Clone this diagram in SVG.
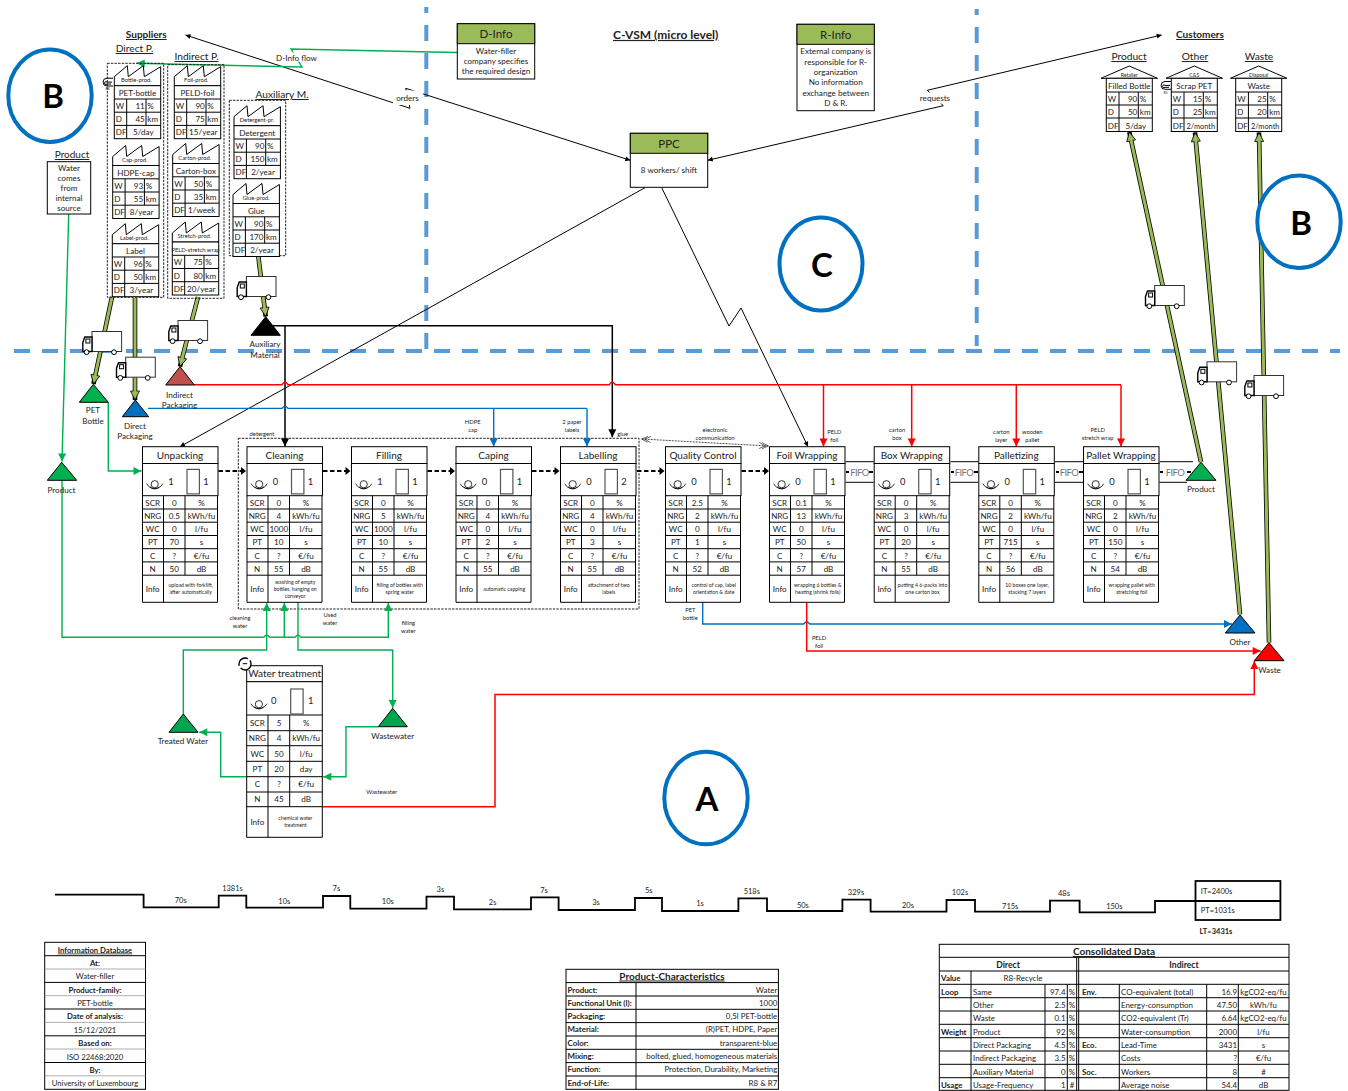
<svg xmlns="http://www.w3.org/2000/svg" width="1348" height="1091" viewBox="0 0 1348 1091">
<style>
text{font-family:Lato,"Liberation Sans",sans-serif;fill:#222;font-size:8.1px}
.m{text-anchor:middle}.e{text-anchor:end}.b{font-weight:700}.u{text-decoration:underline}
.s5{font-size:5.8px}.s45{font-size:5.2px}.s65{font-size:7.5px}.s7{font-size:7.9px}.s77{font-size:7.7px}.s85{font-size:10px}.s10{font-size:10.2px}.s12{font-size:12px}.s11{font-size:11.5px}
.v text{text-anchor:middle}
.v text.pt{font-size:10px}.v text.n{font-size:9.4px}
.big{font-size:33px;font-weight:700;text-anchor:middle;fill:#000}
.fifo{font-size:9.5px;fill:#777;text-anchor:middle;letter-spacing:-.6px}
.l{fill:none;stroke:#000;stroke-width:1}
.box{fill:#fff;stroke:#000;stroke-width:1}
.dash{fill:none;stroke:#5B9BD5;stroke-width:4;stroke-dasharray:16 12}
.dot{fill:none;stroke:#222;stroke-width:1;stroke-dasharray:2.4 1.2}
.thin{fill:none;stroke:#000;stroke-width:1}
.aux{fill:none;stroke:#000;stroke-width:1.5;marker-end:url(#mk)}
.red{fill:none;stroke:#F00;stroke-width:1.5}
.blue{fill:none;stroke:#0070C0;stroke-width:1.4}
.grn{fill:none;stroke:#00B050;stroke-width:1.4}
.flow{fill:none;stroke:#000;stroke-width:1.8;stroke-dasharray:4.5 2.5;marker-end:url(#mf)}
.ou{fill:none;stroke:#000;stroke-width:4.6;marker-end:url(#mo)}
.ol{fill:none;stroke:#9BBB59;stroke-width:3}
.ring{fill:#fff;stroke:#0070C0;stroke-width:4}
.tl{fill:none;stroke:#000;stroke-width:1.8}
.hdr{fill:#9BBB59;stroke:#000;stroke-width:1}
.g{fill:none;stroke:#999;stroke-width:.8}
.tri{stroke:#000;stroke-width:1}
</style>
<defs>
<marker id="mk" markerUnits="userSpaceOnUse" markerWidth="9" markerHeight="9" refX="8" refY="4" orient="auto" overflow="visible"><path d="M0,0L8,4L0,8Z" fill="#000"/></marker>
<marker id="mr" markerUnits="userSpaceOnUse" markerWidth="9" markerHeight="9" refX="8" refY="4" orient="auto" overflow="visible"><path d="M0,0L8,4L0,8Z" fill="#F00"/></marker>
<marker id="mb" markerUnits="userSpaceOnUse" markerWidth="9" markerHeight="9" refX="8" refY="4" orient="auto" overflow="visible"><path d="M0,0L8,4L0,8Z" fill="#0070C0"/></marker>
<marker id="mg" markerUnits="userSpaceOnUse" markerWidth="9" markerHeight="9" refX="8" refY="4" orient="auto" overflow="visible"><path d="M0,0L8,4L0,8Z" fill="#00B050"/></marker>
<marker id="mf" markerUnits="userSpaceOnUse" markerWidth="7" markerHeight="8" refX="5" refY="4" orient="auto" overflow="visible"><path d="M0,0L5,4L0,8Z" fill="#000"/></marker>
<marker id="ms" markerUnits="userSpaceOnUse" markerWidth="6" markerHeight="6" refX="5" refY="2.5" orient="auto-start-reverse" overflow="visible"><path d="M0,0L5,2.5L0,5Z" fill="#000"/></marker>
<marker id="mo" markerUnits="userSpaceOnUse" markerWidth="10" markerHeight="10" refX="9" refY="4.5" orient="auto" overflow="visible"><path d="M0,0L9,4.5L0,9Z" fill="#9BBB59" stroke="#000" stroke-width=".8"/></marker>
<marker id="me" markerUnits="userSpaceOnUse" markerWidth="9" markerHeight="9" refX="6" refY="3" orient="auto-start-reverse" overflow="visible"><path d="M0,0L6,3L0,6M-3,0L3,3L-3,6" fill="none" stroke="#000" stroke-width=".6"/></marker>
<g id="pb">
<rect class="box" x=".5" y="0" width="75.5" height="16.8"/><rect class="box" x=".5" y="16.8" width="75.5" height="32.2"/>
<path class="l" d="M.5,49V155.6H75.5V49M.5,62.3H75.5M.5,75.5H75.5M.5,88.8H75.5M.5,102H75.5M.5,115.2H75.5M.5,128.5H75.5M21.5,49V155.6M43,49V128.5"/>
<use href="#op"/>
<rect x="45" y="22.7" width="12.4" height="24.5" fill="#fff" stroke="#555" stroke-width="1.2"/>
</g>
<g id="op" fill="none" stroke="#000" stroke-width=".8"><circle cx="12.7" cy="37.5" r="3.6"/><path d="M8,40A6,6 0 0 0 17.4,40M4.7,37A9,9 0 0 0 20.7,37"/></g>
<g id="sb"><path class="box" d="M0,11L13,0L14,11L29,0L30,11L46.4,1V20H0Z"/><rect class="box" x="0" y="20" width="46.4" height="53"/><path class="l" d="M0,33.3H46.4M0,46.5H46.4M0,59.7H46.4M12.4,33.3V73M31.7,33.3V59.7"/></g>
<g id="hb"><path class="box" d="M-5.3,12.3L23,0L51.3,12.3Z"/><rect class="box" x="0" y="12.3" width="46" height="53.2"/><path class="l" d="M0,26H46M0,39H46M0,52H46M12.7,26V65.5M32,26V52"/></g>
<g id="tk"><rect x="9.7" y=".5" width="29.6" height="20" fill="#fff" stroke="#333" stroke-width="1"/><path d="M9.7,6H2.5L.5,11.5V20.5H9.7Z" fill="#fff" stroke="#000" stroke-width="1.4"/><rect x="3.6" y="8" width="4" height="4" fill="#fff" stroke="#000" stroke-width="1"/><circle cx="4.3" cy="21.2" r="2.4" fill="#fff" stroke="#000"/><circle cx="31.7" cy="21.2" r="2.4" fill="#fff" stroke="#000"/></g>
<g id="ri" fill="none" stroke="#000" stroke-width="1"><path d="M5,-3.5H-1A3.9,3.9 0 1 0 -1,4.3H5"/><path d="M4,.4H-1A1.4,1.4 0 1 0 -1,2.3H3"/></g>
</defs>

<g id="dividers">
<path class="dash" stroke-dashoffset="10" d="M426.3,7V350"/>
<path class="dash" stroke-dashoffset="10" d="M976.7,9V346"/>
<path class="dash" d="M14,351H1340"/>
</g>

<rect id="group-box" class="dot" x="238.3" y="438.3" width="400.7" height="170.7"/>

<g id="connectors">
<path d="M185.5,35L410,108.3L405.7,88.3L630.3,160.3" fill="none" stroke="#000" stroke-width="1" marker-start="url(#ms)" marker-end="url(#ms)"/>
<rect x="393" y="90.5" width="30" height="14.5" fill="#fff"/><text class="m" x="407.5" y="101">orders</text>
<path d="M707.7,160.3L943.3,105.7L927.3,90.3L1161.7,35" fill="none" stroke="#000" stroke-width="1" marker-start="url(#ms)" marker-end="url(#ms)"/>
<rect x="917" y="92.5" width="36" height="11" fill="#fff"/><text class="m" x="935" y="101">requests</text>
<path class="thin" marker-end="url(#ms)" d="M645,187.7L180,446.7"/>
<path class="thin" marker-end="url(#ms)" d="M661.7,187.7L729,326L741,308L808,446.7"/>
<path class="grn" marker-end="url(#mg)" d="M457,52.5L291,49L302,67L136.7,63.3"/>
<rect x="275" y="52.5" width="43" height="9" fill="#fff"/><text class="m" x="296.5" y="60.5">D-Info flow</text>
<path class="ou" d="M112,297L93.5,384"/><path class="ol" d="M112,297L94.5,379"/>
<path class="ou" d="M135,298V400"/><path class="ol" d="M135,298V395"/>
<path class="ou" d="M198,297L180,366.5"/><path class="ol" d="M198,297L181.3,361.5"/>
<path class="ou" d="M258.3,256L265.7,316.5"/><path class="ol" d="M258.3,256L265,311.5"/>
<path class="ou" d="M1201,462L1129.3,132"/><path class="ol" d="M1201,462L1130.4,137"/>
<path class="ou" d="M1240,614.5L1195,132.5"/><path class="ol" d="M1240,614.5L1195.5,137.5"/>
<path class="ou" d="M1269,642.5L1259,132.5"/><path class="ol" d="M1269,642.5L1259.1,137.5"/>
<path class="aux" d="M272,325.7H612.3V437.3"/>
<path class="aux" d="M285,325.7V446.5"/>
<path class="red" d="M194,384.7H282Q285,380 288,384.7H609.3Q612.3,380 615.3,384.7H1121"/>
<path class="red" marker-end="url(#mr)" d="M823.5,384.7V446.5"/><path class="red" marker-end="url(#mr)" d="M911.7,384.7V446.5"/><path class="red" marker-end="url(#mr)" d="M1016.3,384.7V446.5"/><path class="red" marker-end="url(#mr)" d="M1121,384.7V446.5"/>
<path class="blue" d="M148,408.4H282Q285,404 288,408.4H587"/>
<path class="blue" marker-end="url(#mb)" d="M493.7,408.4V446.5"/><path class="blue" marker-end="url(#mb)" d="M587,408.4V446.5"/>
<path class="blue" marker-end="url(#mb)" d="M702.7,602.5V624H803.7Q806.7,620 809.7,624H1232"/>
<path class="red" marker-end="url(#mr)" d="M806.7,602.5V651H1260.7"/>
<path class="red" marker-end="url(#mr)" d="M322.3,806.7H495V694.5H1254.3V661"/>
<path class="grn" marker-end="url(#mg)" d="M68.7,214L62,461.5"/>
<path class="grn" marker-end="url(#mg)" d="M62,480V637.3H263.7Q266.7,633 269.7,637.3H295Q298,633 301,637.3H388.3V603"/>
<path class="grn" marker-end="url(#mg)" d="M284.3,637.3V603"/>
<path class="grn" marker-end="url(#mg)" d="M183.3,714V650H266.7V603"/>
<path class="grn" marker-end="url(#mg)" d="M298,602.5V650H392.7V708"/>
<path class="grn" marker-end="url(#mg)" d="M378.3,726.7H346V776.7H323.3"/>
<path class="grn" marker-end="url(#mg)" d="M246.7,776.7H220.7V732.3H199.3"/>
<path class="grn" marker-end="url(#mg)" d="M108.3,402.3V471H141.5"/>
<path class="flow" d="M218.5,471H246"/><path class="flow" d="M323,471H350.5"/><path class="flow" d="M427.5,471H455"/><path class="flow" d="M532,471H559.5"/><path class="flow" d="M637,471H664.5"/><path class="flow" d="M741.5,471H769"/>
<path d="M641.7,439L768.3,446" fill="none" stroke="#000" stroke-width=".7" stroke-dasharray="2 1" marker-start="url(#me)" marker-end="url(#me)"/>
<g id="fifo-lanes">
<path class="l" d="M845.5,461.7H873.7M845.5,482.3H873.7M950.5,461.7H978.3M950.5,482.3H978.3M1055,461.7H1083M1055,482.3H1083M1159.5,461.7H1193M1159.5,482.3H1187"/>
<path fill="none" stroke="#000" stroke-width="1.8" d="M846,472H849M869,472H873M951,472H954M974,472H978M1056,472H1059M1079,472H1083M1160,472H1163M1187,472H1191"/>
<text class="fifo" x="859.5" y="475.5">FIFO</text><text class="fifo" x="964" y="475.5">FIFO</text><text class="fifo" x="1069" y="475.5">FIFO</text><text class="fifo" x="1175" y="475.5">FIFO</text>
</g>
<g id="connector-labels">
<text class="s5 m" x="262" y="436">detergent</text>
<text class="s5 m" x="472.7" y="423.5">HDPE</text><text class="s5 m" x="472.7" y="431.7">cap</text>
<text class="s5 m" x="572" y="423.5">2 paper</text><text class="s5 m" x="572" y="431.7">labels</text>
<text class="s5 m" x="622.7" y="436">glue</text>
<text class="s5 m" x="715" y="431.7">electronic</text><text class="s5 m" x="715" y="439.7">communication</text>
<text class="s5 m" x="834.3" y="433.5">PELD</text><text class="s5 m" x="834.3" y="441.7">foil</text>
<text class="s5 m" x="897" y="431.7">carton</text><text class="s5 m" x="897" y="439.7">box</text>
<text class="s5 m" x="1001.3" y="433.5">carton</text><text class="s5 m" x="1001.3" y="441.5">layer</text>
<text class="s5 m" x="1032.3" y="433.5">wooden</text><text class="s5 m" x="1032.3" y="441.5">pallet</text>
<text class="s5 m" x="1097.7" y="431.7">PELD</text><text class="s5 m" x="1097.7" y="439.9">stretch wrap</text>
<text class="s5 m" x="690.3" y="611.9">PET</text><text class="s5 m" x="690.3" y="619.8">bottle</text>
<text class="s5 m" x="819" y="639.5">PELD</text><text class="s5 m" x="819" y="647.5">foil</text>
<text class="s5 m" x="240" y="619.5">cleaning</text><text class="s5 m" x="240" y="627.7">water</text>
<text class="s5 m" x="330" y="616.5">Used</text><text class="s5 m" x="330" y="624.7">water</text>
<text class="s5 m" x="408.3" y="624.5">filling</text><text class="s5 m" x="408.3" y="632.7">water</text>
<text class="s5 m" x="381.7" y="793.7">Wastewater</text>
</g>
</g>

<text id="title" class="s12 b u m" x="665.7" y="38.9">C-VSM (micro level)</text>
<text class="s85 b u m" x="146.3" y="38">Suppliers</text>
<text class="s10 u m" x="134.5" y="52">Direct P.</text>
<text class="s10 u m" x="196.5" y="60">Indirect P.</text>
<text class="s10 u m" x="282" y="98">Auxiliary M.</text>
<text class="s85 b u m" x="1200" y="38">Customers</text>
<text class="s10 u m" x="1129" y="60">Product</text>
<text class="s10 u m" x="1195" y="60">Other</text>
<text class="s10 u m" x="1259" y="60">Waste</text>

<g id="water-source"><text class="s85 u m" x="72" y="158">Product</text><rect class="box" x="47.3" y="161.7" width="43.4" height="52.3"/>
<text class="m" x="69" y="170.5">Water</text><text class="m" x="69" y="180.7">comes</text><text class="m" x="69" y="191">from</text><text class="m" x="69" y="201.3">internal</text><text class="m" x="69" y="211.3">source</text></g>

<rect class="dot" x="107.3" y="63.3" width="56.4" height="234"/>
<rect class="dot" x="167.7" y="64.7" width="56.3" height="233.6"/>
<rect class="dot" x="229.3" y="100.3" width="56.4" height="155.4"/>

<g id="s-bottle" transform="translate(114.3,65.7)"><use href="#sb"/><text class="s5 m" x="22" y="16">Bottle-prod.</text><text class="m" x="23.2" y="30.3">PET-bottle</text><text x="1.5" y="43.3">W</text><text class="e" x="30.5" y="43.3">11</text><text x="33" y="43.3">%</text><text x="1.5" y="56.5">D</text><text class="e" x="30.5" y="56.5">45</text><text x="33" y="56.5">km</text><text x="1.5" y="69.8">DF</text><text class="m" x="29" y="69.8">5/day</text></g>
<g id="s-cap" transform="translate(112.7,145.5)"><use href="#sb"/><text class="s5 m" x="22" y="16">Cap-prod.</text><text class="m" x="23.2" y="30.3">HDPE-cap</text><text x="1.5" y="43.3">W</text><text class="e" x="30.5" y="43.3">93</text><text x="33" y="43.3">%</text><text x="1.5" y="56.5">D</text><text class="e" x="30.5" y="56.5">55</text><text x="33" y="56.5">km</text><text x="1.5" y="69.8">DF</text><text class="m" x="29" y="69.8">8/year</text></g>
<g id="s-label" transform="translate(112.3,223.7)"><use href="#sb"/><text class="s5 m" x="22" y="16">Label-prod.</text><text class="m" x="23.2" y="30.3">Label</text><text x="1.5" y="43.3">W</text><text class="e" x="30.5" y="43.3">96</text><text x="33" y="43.3">%</text><text x="1.5" y="56.5">D</text><text class="e" x="30.5" y="56.5">50</text><text x="33" y="56.5">km</text><text x="1.5" y="69.8">DF</text><text class="m" x="29" y="69.8">3/year</text></g>
<g id="s-foil" transform="translate(174.3,65.7)"><use href="#sb"/><text class="s5 m" x="22" y="16">Foil-prod.</text><text class="m" x="23.2" y="30.3">PELD-foil</text><text x="1.5" y="43.3">W</text><text class="e" x="30.5" y="43.3">90</text><text x="33" y="43.3">%</text><text x="1.5" y="56.5">D</text><text class="e" x="30.5" y="56.5">75</text><text x="33" y="56.5">km</text><text x="1.5" y="69.8">DF</text><text class="m" x="29" y="69.8">15/year</text></g>
<g id="s-carton" transform="translate(172.7,143.5)"><use href="#sb"/><text class="s5 m" x="22" y="16">Carton-prod.</text><text class="m" x="23.2" y="30.3">Carton-box</text><text x="1.5" y="43.3">W</text><text class="e" x="30.5" y="43.3">50</text><text x="33" y="43.3">%</text><text x="1.5" y="56.5">D</text><text class="e" x="30.5" y="56.5">35</text><text x="33" y="56.5">km</text><text x="1.5" y="69.8">DF</text><text class="m" x="29" y="69.8">1/week</text></g>
<g id="s-stretch" transform="translate(172.3,222)"><use href="#sb"/><text class="s5 m" x="22" y="16">Stretch-prod.</text><text class="s5 m" x="23.2" y="30">PELD-stretch wrap</text><text x="1.5" y="43.3">W</text><text class="e" x="30.5" y="43.3">75</text><text x="33" y="43.3">%</text><text x="1.5" y="56.5">D</text><text class="e" x="30.5" y="56.5">80</text><text x="33" y="56.5">km</text><text x="1.5" y="69.8">DF</text><text class="m" x="29" y="69.8">20/year</text></g>
<g id="s-detergent" transform="translate(234,105.7)"><use href="#sb"/><text class="s5 m" x="23" y="16">Detergent-pr.</text><text class="m" x="23.2" y="30.3">Detergent</text><text x="1.5" y="43.3">W</text><text class="e" x="30.5" y="43.3">90</text><text x="33" y="43.3">%</text><text x="1.5" y="56.5">D</text><text class="e" x="30.5" y="56.5">150</text><text x="33" y="56.5">km</text><text x="1.5" y="69.8">DF</text><text class="m" x="29" y="69.8">2/year</text></g>
<g id="s-glue" transform="translate(233,183.5)"><use href="#sb"/><text class="s5 m" x="23" y="16">Glue-prod.</text><text class="m" x="23.2" y="30.3">Glue</text><text x="1.5" y="43.3">W</text><text class="e" x="30.5" y="43.3">90</text><text x="33" y="43.3">%</text><text x="1.5" y="56.5">D</text><text class="e" x="30.5" y="56.5">170</text><text x="33" y="56.5">km</text><text x="1.5" y="69.8">DF</text><text class="m" x="29" y="69.8">2/year</text></g>
<g id="r8-icon"><use href="#ri" transform="translate(108,81.7)"/><text class="m" x="107.5" y="90" style="font-size:3.5px">R8</text></g>

<g id="c-retailer" transform="translate(1106.3,66)"><use href="#hb"/><text class="s45 m" x="23" y="11">Retailer</text><text class="m" x="23" y="23">Filled Bottle</text><text x="1.5" y="36">W</text><text class="e" x="31" y="36">90</text><text x="33.5" y="36">%</text><text x="1.5" y="49">D</text><text class="e" x="31" y="49">50</text><text x="33.5" y="49">km</text><text x="1.5" y="62.5">DF</text><text class="m" x="29.5" y="62.5">5/day</text></g>
<g id="c-cs" transform="translate(1171.3,66)"><use href="#hb"/><text class="s45 m" x="23" y="11">C&amp;S</text><text class="m" x="23" y="23">Scrap PET</text><text x="1.5" y="36">W</text><text class="e" x="31" y="36">15</text><text x="33.5" y="36">%</text><text x="1.5" y="49">D</text><text class="e" x="31" y="49">25</text><text x="33.5" y="49">km</text><text x="1.5" y="62.5">DF</text><text class="m" x="29.5" y="62.5" style="font-size:7.4px">2/month</text></g>
<g id="c-disposal" transform="translate(1235.7,66)"><use href="#hb"/><text class="s45 m" x="23" y="11">Disposal</text><text class="m" x="23" y="23">Waste</text><text x="1.5" y="36">W</text><text class="e" x="31" y="36">25</text><text x="33.5" y="36">%</text><text x="1.5" y="49">D</text><text class="e" x="31" y="49">20</text><text x="33.5" y="49">km</text><text x="1.5" y="62.5">DF</text><text class="m" x="29.5" y="62.5" style="font-size:7.4px">2/month</text></g>
<g id="r3-icon"><use href="#ri" transform="translate(1166,85)"/><text class="m" x="1165.5" y="93.5" style="font-size:3.5px">R3</text></g>

<g id="d-info"><rect class="box" x="457.3" y="23.7" width="77.4" height="55.3"/><rect class="hdr" x="457.3" y="23.7" width="77.4" height="20"/><text class="s11 m" x="496" y="38">D-Info</text><text class="m" x="496" y="53.7">Water-filler</text><text class="m" x="496" y="64">company specifies</text><text class="m" x="496" y="73.7">the required design</text></g>
<g id="r-info"><rect class="box" x="797" y="24.3" width="77.3" height="86.4"/><rect class="hdr" x="797" y="24.3" width="77.3" height="20"/><text class="s11 m" x="835.7" y="38.5">R-Info</text><text class="m" x="835.7" y="54">External company is</text><text class="m" x="835.7" y="65">responsible for R-</text><text class="m" x="835.7" y="75">organization</text><text class="m" x="835.7" y="85">No information</text><text class="m" x="835.7" y="96">exchange between</text><text class="m" x="835.7" y="106">D &amp; R.</text></g>
<g id="ppc"><rect class="box" x="630.3" y="133.3" width="77.4" height="54"/><rect class="hdr" x="630.3" y="133.3" width="77.4" height="20"/><text class="s11 m" x="669" y="147.7">PPC</text><text class="m" x="669" y="173">8 workers/ shift</text></g>

<g id="trucks">
<use href="#tk" x="82.3" y="331"/><use href="#tk" x="116" y="356.7"/><use href="#tk" x="168.3" y="320"/><use href="#tk" x="236.7" y="276"/><use href="#tk" x="1145" y="285"/><use href="#tk" x="1197.3" y="361.3"/><use href="#tk" x="1244.3" y="375"/>
</g>

<g id="inv-pet"><path class="tri" fill="#00B050" d="M93.3,384.3L108.3,402.3H79.3Z"/><text class="m" x="93" y="413">PET</text><text class="m" x="93" y="424">Bottle</text></g>
<g id="inv-direct"><path class="tri" fill="#0070C0" d="M135.3,400L148.7,416.7H122.3Z"/><text class="m" x="135" y="429">Direct</text><text class="m" x="135" y="439">Packaging</text></g>
<g id="inv-indirect"><path class="tri" fill="#C0504D" d="M180,366.7L194.3,385H165.7Z"/><text class="m" x="179.5" y="398">Indirect</text><text class="m" x="179.5" y="408">Packaging</text></g>
<g id="inv-aux"><path class="tri" fill="#000" d="M265.7,316.7L280.3,335.3H251Z"/><text class="m" x="265" y="347">Auxiliary</text><text class="m" x="265" y="358">Material</text></g>
<g id="inv-product-in"><path class="tri" fill="#00B050" d="M61.7,462.3L76.7,480.3H47.3Z"/><text class="m" x="61.5" y="492.5">Product</text></g>
<g id="inv-product"><path class="tri" fill="#00B050" d="M1201,462.3L1216,480.3H1186Z"/><text class="m" x="1201" y="492">Product</text></g>
<g id="inv-other"><path class="tri" fill="#0070C0" d="M1240,615L1255,633H1225.3Z"/><text class="m" x="1240" y="645">Other</text></g>
<g id="inv-waste"><path class="tri" fill="#F00" d="M1269,642.7L1284,660.7H1254.3Z"/><text class="m" x="1269.5" y="673">Waste</text></g>
<g id="inv-treated"><path class="tri" fill="#00A54F" d="M183.3,714L198,732.3H169Z"/><text class="m" x="183" y="744">Treated Water</text></g>
<g id="inv-wastewater"><path class="tri" fill="#00A54F" d="M392.7,708.3L407.3,726.7H378.3Z"/><text class="m" x="392.7" y="739">Wastewater</text></g>

<g id="p-unpacking" class="v" transform="translate(142,446.7)"><use href="#pb"/><text class="pt" x="38" y="12">Unpacking</text><text class="n" x="29" y="38">1</text><text class="n" x="64" y="38">1</text>
<text x="10.7" y="59">SCR</text><text x="32.3" y="59">0</text><text x="59.5" y="59">%</text><text x="10.7" y="72.3">NRG</text><text x="32.3" y="72.3">0.5</text><text x="59.5" y="72.3">kWh/fu</text><text x="10.7" y="85.5">WC</text><text x="32.3" y="85.5">0</text><text x="59.5" y="85.5">l/fu</text><text x="10.7" y="98.8">PT</text><text x="32.3" y="98.8">70</text><text x="59.5" y="98.8">s</text><text x="10.7" y="112">C</text><text x="32.3" y="112">?</text><text x="59.5" y="112">€/fu</text><text x="10.7" y="125.2">N</text><text x="32.3" y="125.2">50</text><text x="59.5" y="125.2">dB</text><text x="10.7" y="145.3">Info</text><text class="s45" x="48.7" y="140.5">upload with forklift,</text><text class="s45" x="48.7" y="147.7">after automatically</text></g>
<g id="p-cleaning" class="v" transform="translate(246.5,446.7)"><use href="#pb"/><text class="pt" x="38" y="12">Cleaning</text><text class="n" x="29" y="38">0</text><text class="n" x="64" y="38">1</text>
<text x="10.7" y="59">SCR</text><text x="32.3" y="59">0</text><text x="59.5" y="59">%</text><text x="10.7" y="72.3">NRG</text><text x="32.3" y="72.3">4</text><text x="59.5" y="72.3">kWh/fu</text><text x="10.7" y="85.5">WC</text><text x="32.3" y="85.5">1000</text><text x="59.5" y="85.5">l/fu</text><text x="10.7" y="98.8">PT</text><text x="32.3" y="98.8">10</text><text x="59.5" y="98.8">s</text><text x="10.7" y="112">C</text><text x="32.3" y="112">?</text><text x="59.5" y="112">€/fu</text><text x="10.7" y="125.2">N</text><text x="32.3" y="125.2">55</text><text x="59.5" y="125.2">dB</text><text x="10.7" y="145.3">Info</text><text class="s45" x="48.7" y="137.4">washing of empty</text><text class="s45" x="48.7" y="144.4">bottles, hanging on</text><text class="s45" x="48.7" y="151.4">conveyor</text></g>
<g id="p-filling" class="v" transform="translate(351,446.7)"><use href="#pb"/><text class="pt" x="38" y="12">Filling</text><text class="n" x="29" y="38">1</text><text class="n" x="64" y="38">1</text>
<text x="10.7" y="59">SCR</text><text x="32.3" y="59">0</text><text x="59.5" y="59">%</text><text x="10.7" y="72.3">NRG</text><text x="32.3" y="72.3">5</text><text x="59.5" y="72.3">kWh/fu</text><text x="10.7" y="85.5">WC</text><text x="32.3" y="85.5">1000</text><text x="59.5" y="85.5">l/fu</text><text x="10.7" y="98.8">PT</text><text x="32.3" y="98.8">10</text><text x="59.5" y="98.8">s</text><text x="10.7" y="112">C</text><text x="32.3" y="112">?</text><text x="59.5" y="112">€/fu</text><text x="10.7" y="125.2">N</text><text x="32.3" y="125.2">55</text><text x="59.5" y="125.2">dB</text><text x="10.7" y="145.3">Info</text><text class="s45" x="48.7" y="140.5">filling of bottles with</text><text class="s45" x="48.7" y="147.7">spring water</text></g>
<g id="p-caping" class="v" transform="translate(455.5,446.7)"><use href="#pb"/><text class="pt" x="38" y="12">Caping</text><text class="n" x="29" y="38">0</text><text class="n" x="64" y="38">1</text>
<text x="10.7" y="59">SCR</text><text x="32.3" y="59">0</text><text x="59.5" y="59">%</text><text x="10.7" y="72.3">NRG</text><text x="32.3" y="72.3">4</text><text x="59.5" y="72.3">kWh/fu</text><text x="10.7" y="85.5">WC</text><text x="32.3" y="85.5">0</text><text x="59.5" y="85.5">l/fu</text><text x="10.7" y="98.8">PT</text><text x="32.3" y="98.8">2</text><text x="59.5" y="98.8">s</text><text x="10.7" y="112">C</text><text x="32.3" y="112">?</text><text x="59.5" y="112">€/fu</text><text x="10.7" y="125.2">N</text><text x="32.3" y="125.2">55</text><text x="59.5" y="125.2">dB</text><text x="10.7" y="145.3">Info</text><text class="s45" x="48.7" y="144.3">automatic capping</text></g>
<g id="p-labelling" class="v" transform="translate(560,446.7)"><use href="#pb"/><text class="pt" x="38" y="12">Labelling</text><text class="n" x="29" y="38">0</text><text class="n" x="64" y="38">2</text>
<text x="10.7" y="59">SCR</text><text x="32.3" y="59">0</text><text x="59.5" y="59">%</text><text x="10.7" y="72.3">NRG</text><text x="32.3" y="72.3">4</text><text x="59.5" y="72.3">kWh/fu</text><text x="10.7" y="85.5">WC</text><text x="32.3" y="85.5">0</text><text x="59.5" y="85.5">l/fu</text><text x="10.7" y="98.8">PT</text><text x="32.3" y="98.8">3</text><text x="59.5" y="98.8">s</text><text x="10.7" y="112">C</text><text x="32.3" y="112">?</text><text x="59.5" y="112">€/fu</text><text x="10.7" y="125.2">N</text><text x="32.3" y="125.2">55</text><text x="59.5" y="125.2">dB</text><text x="10.7" y="145.3">Info</text><text class="s45" x="48.7" y="140.5">attachment of two</text><text class="s45" x="48.7" y="147.7">labels</text></g>
<g id="p-qc" class="v" transform="translate(665,446.7)"><use href="#pb"/><text class="pt" x="38" y="12">Quality Control</text><text class="n" x="29" y="38">0</text><text class="n" x="64" y="38">1</text>
<text x="10.7" y="59">SCR</text><text x="32.3" y="59">2.5</text><text x="59.5" y="59">%</text><text x="10.7" y="72.3">NRG</text><text x="32.3" y="72.3">2</text><text x="59.5" y="72.3">kWh/fu</text><text x="10.7" y="85.5">WC</text><text x="32.3" y="85.5">0</text><text x="59.5" y="85.5">l/fu</text><text x="10.7" y="98.8">PT</text><text x="32.3" y="98.8">1</text><text x="59.5" y="98.8">s</text><text x="10.7" y="112">C</text><text x="32.3" y="112">?</text><text x="59.5" y="112">€/fu</text><text x="10.7" y="125.2">N</text><text x="32.3" y="125.2">52</text><text x="59.5" y="125.2">dB</text><text x="10.7" y="145.3">Info</text><text class="s45" x="48.7" y="140.5">control of cap, label</text><text class="s45" x="48.7" y="147.7">orientation &amp; date</text></g>
<g id="p-foil" class="v" transform="translate(769,446.7)"><use href="#pb"/><text class="pt" x="38" y="12">Foil Wrapping</text><text class="n" x="29" y="38">0</text><text class="n" x="64" y="38">1</text>
<text x="10.7" y="59">SCR</text><text x="32.3" y="59">0.1</text><text x="59.5" y="59">%</text><text x="10.7" y="72.3">NRG</text><text x="32.3" y="72.3">13</text><text x="59.5" y="72.3">kWh/fu</text><text x="10.7" y="85.5">WC</text><text x="32.3" y="85.5">0</text><text x="59.5" y="85.5">l/fu</text><text x="10.7" y="98.8">PT</text><text x="32.3" y="98.8">50</text><text x="59.5" y="98.8">s</text><text x="10.7" y="112">C</text><text x="32.3" y="112">?</text><text x="59.5" y="112">€/fu</text><text x="10.7" y="125.2">N</text><text x="32.3" y="125.2">57</text><text x="59.5" y="125.2">dB</text><text x="10.7" y="145.3">Info</text><text class="s45" x="48.7" y="140">wrapping 6 bottles &amp;</text><text class="s45" x="48.7" y="147">heating (shrink foils)</text></g>
<g id="p-box" class="v" transform="translate(873.7,446.7)"><use href="#pb"/><text class="pt" x="38" y="12">Box Wrapping</text><text class="n" x="29" y="38">0</text><text class="n" x="64" y="38">1</text>
<text x="10.7" y="59">SCR</text><text x="32.3" y="59">0</text><text x="59.5" y="59">%</text><text x="10.7" y="72.3">NRG</text><text x="32.3" y="72.3">3</text><text x="59.5" y="72.3">kWh/fu</text><text x="10.7" y="85.5">WC</text><text x="32.3" y="85.5">0</text><text x="59.5" y="85.5">l/fu</text><text x="10.7" y="98.8">PT</text><text x="32.3" y="98.8">20</text><text x="59.5" y="98.8">s</text><text x="10.7" y="112">C</text><text x="32.3" y="112">?</text><text x="59.5" y="112">€/fu</text><text x="10.7" y="125.2">N</text><text x="32.3" y="125.2">55</text><text x="59.5" y="125.2">dB</text><text x="10.7" y="145.3">Info</text><text class="s45" x="48.7" y="140">putting 4 6-packs into</text><text class="s45" x="48.7" y="147">one carton box</text></g>
<g id="p-palletizing" class="v" transform="translate(978.3,446.7)"><use href="#pb"/><text class="pt" x="38" y="12">Palletizing</text><text class="n" x="29" y="38">0</text><text class="n" x="64" y="38">1</text>
<text x="10.7" y="59">SCR</text><text x="32.3" y="59">0</text><text x="59.5" y="59">%</text><text x="10.7" y="72.3">NRG</text><text x="32.3" y="72.3">2</text><text x="59.5" y="72.3">kWh/fu</text><text x="10.7" y="85.5">WC</text><text x="32.3" y="85.5">0</text><text x="59.5" y="85.5">l/fu</text><text x="10.7" y="98.8">PT</text><text x="32.3" y="98.8">715</text><text x="59.5" y="98.8">s</text><text x="10.7" y="112">C</text><text x="32.3" y="112">?</text><text x="59.5" y="112">€/fu</text><text x="10.7" y="125.2">N</text><text x="32.3" y="125.2">56</text><text x="59.5" y="125.2">dB</text><text x="10.7" y="145.3">Info</text><text class="s45" x="48.7" y="140">10 boxes one layer,</text><text class="s45" x="48.7" y="147">stacking 7 layers</text></g>
<g id="p-pallet-wrapping" class="v" transform="translate(1083,446.7)"><use href="#pb"/><text class="pt" x="38" y="12">Pallet Wrapping</text><text class="n" x="29" y="38">0</text><text class="n" x="64" y="38">1</text>
<text x="10.7" y="59">SCR</text><text x="32.3" y="59">0</text><text x="59.5" y="59">%</text><text x="10.7" y="72.3">NRG</text><text x="32.3" y="72.3">2</text><text x="59.5" y="72.3">kWh/fu</text><text x="10.7" y="85.5">WC</text><text x="32.3" y="85.5">0</text><text x="59.5" y="85.5">l/fu</text><text x="10.7" y="98.8">PT</text><text x="32.3" y="98.8">150</text><text x="59.5" y="98.8">s</text><text x="10.7" y="112">C</text><text x="32.3" y="112">?</text><text x="59.5" y="112">€/fu</text><text x="10.7" y="125.2">N</text><text x="32.3" y="125.2">54</text><text x="59.5" y="125.2">dB</text><text x="10.7" y="145.3">Info</text><text class="s45" x="48.7" y="140">wrapping pallet with</text><text class="s45" x="48.7" y="147">stretching foil</text></g>

<g id="p-water-treatment" class="v" transform="translate(246.7,665.7)">
<rect class="box" x="0" y="0" width="75.6" height="16"/><rect class="box" x="0" y="16" width="75.6" height="33.3"/>
<path class="l" d="M0,49.3V171.6H75.6V49.3M0,65H75.6M0,80H75.6M0,95.6H75.6M0,111H75.6M0,126.3H75.6M0,141H75.6M21.3,49.3V171.6M43,49.3V141"/>
<use href="#op" transform="translate(-.5,1)"/><rect x="44" y="23.3" width="12.4" height="25" fill="#fff" stroke="#555" stroke-width="1.2"/>
<text class="pt" x="38" y="11.5">Water treatment</text><text class="n" x="27" y="38">0</text><text class="n" x="64" y="38">1</text>
<text x="10.7" y="60.3">SCR</text><text x="32.3" y="60.3">5</text><text x="59.5" y="60.3">%</text><text x="10.7" y="75.6">NRG</text><text x="32.3" y="75.6">4</text><text x="59.5" y="75.6">kWh/fu</text><text x="10.7" y="90.9">WC</text><text x="32.3" y="90.9">50</text><text x="59.5" y="90.9">l/fu</text><text x="10.7" y="106.3">PT</text><text x="32.3" y="106.3">20</text><text x="59.5" y="106.3">day</text><text x="10.7" y="121.6">C</text><text x="32.3" y="121.6">?</text><text x="59.5" y="121.6">€/fu</text><text x="10.7" y="136.7">N</text><text x="32.3" y="136.7">45</text><text x="59.5" y="136.7">dB</text><text x="10.7" y="159">Info</text><text class="s45" x="48.7" y="154">chemical water</text><text class="s45" x="48.7" y="161">treatment</text>
<circle cx="-1.7" cy="-1.7" r="6" fill="#fff" stroke="#000" stroke-width="1.4" stroke-dasharray="14 2.5"/><path class="l" d="M-4,-2H.5"/>
</g>

<g id="timeline">
<path class="tl" d="M55,894.7H143.6V907.3H218.7V895.7H246.3V907.7H323V896H350.3V908.7H426.5V896.7H454V909.3H531V897.3H558.6V910H635V898H662V911H738.4V898.3H767V911H842.4V899.7H870.6V911.7H946.5V900H975V911.7H1050V900.7H1079.6V912.3H1155V901H1195.5"/>
<text class="s65 m" x="180.7" y="903">70s</text><text class="s65 m" x="232.5" y="891">1381s</text><text class="s65 m" x="284.3" y="903.5">10s</text><text class="s65 m" x="336.4" y="891.3">7s</text><text class="s65 m" x="387.8" y="904">10s</text><text class="s65 m" x="440.4" y="892">3s</text><text class="s65 m" x="492.6" y="905">2s</text><text class="s65 m" x="544" y="892.5">7s</text><text class="s65 m" x="596" y="905">3s</text><text class="s65 m" x="648.7" y="893">5s</text><text class="s65 m" x="700" y="905.5">1s</text><text class="s65 m" x="751.8" y="893.5">518s</text><text class="s65 m" x="802.9" y="907.5">50s</text><text class="s65 m" x="856" y="894.5">329s</text><text class="s65 m" x="908" y="907.5">20s</text><text class="s65 m" x="960" y="894.5">102s</text><text class="s65 m" x="1010.2" y="908.5">715s</text><text class="s65 m" x="1064" y="896">48s</text><text class="s65 m" x="1114.3" y="908.5">150s</text>
<rect x="1195.5" y="881" width="84.9" height="39" fill="#fff" stroke="#000" stroke-width="1.8"/><path class="tl" d="M1195.5,901H1280.4"/>
<text class="s65" x="1200.8" y="893.5">IT=2400s</text><text class="s65" x="1200.8" y="913">PT=1031s</text><text class="s65 b m" x="1216" y="933.5">LT=3431s</text>
</g>

<g id="info-database">
<rect class="box" x="44.7" y="942.3" width="100.8" height="147"/>
<path class="g" d="M44.7,969H145.5M44.7,995.7H145.5M44.7,1022.4H145.5M44.7,1049H145.5M44.7,1075.8H145.5"/>
<path class="l" d="M44.7,955.7H145.5M44.7,982.4H145.5M44.7,1009H145.5M44.7,1035.8H145.5M44.7,1062.5H145.5"/>
<text class="s77 b u m" x="95" y="952.5">Information Database</text><text class="s77 b m" x="95" y="966">At:</text><text class="s77 m" x="95" y="979.4">Water-filler</text><text class="s77 b m" x="95" y="992.7">Product-family:</text><text class="s77 m" x="95" y="1006">PET-bottle</text><text class="s77 b m" x="95" y="1019.4">Date of analysis:</text><text class="s77 m" x="95" y="1032.7">15/12/2021</text><text class="s77 b m" x="95" y="1046.2">Based on:</text><text class="s77 m" x="95" y="1059.5">ISO 22468:2020</text><text class="s77 b m" x="95" y="1072.7">By:</text><text class="s77 m" x="95" y="1086">University of Luxembourg</text>
</g>

<g id="product-characteristics">
<rect class="box" x="566" y="969.3" width="212.4" height="120"/>
<path class="l" d="M566,982.6H778.4M566,996H778.4M566,1009.3H778.4M566,1022.6H778.4M566,1036H778.4M566,1049.3H778.4M566,1062.6H778.4M566,1076H778.4M636,982.6V1089.3"/>
<text class="s85 b u m" x="672" y="979.5">Product-Characteristics</text>
<text class="s7 b" x="567.5" y="992.6">Product:</text><text class="s7 e" x="777.3" y="992.6">Water</text>
<text class="s7 b" x="567.5" y="1005.8">Functional Unit (l):</text><text class="s7 e" x="777.3" y="1005.8">1000</text>
<text class="s7 b" x="567.5" y="1019">Packaging:</text><text class="s7 e" x="777.3" y="1019">0,5l PET-bottle</text>
<text class="s7 b" x="567.5" y="1032.3">Material:</text><text class="s7 e" x="777.3" y="1032.3">(R)PET, HDPE, Paper</text>
<text class="s7 b" x="567.5" y="1045.7">Color:</text><text class="s7 e" x="777.3" y="1045.7">transparent-blue</text>
<text class="s7 b" x="567.5" y="1059">Mixing:</text><text class="s7 e" x="777.3" y="1059">bolted, glued, homogeneous materials</text>
<text class="s7 b" x="567.5" y="1072.3">Function:</text><text class="s7 e" x="777.3" y="1072.3">Protection, Durability, Marketing</text>
<text class="s7 b" x="567.5" y="1085.7">End-of-Life:</text><text class="s7 e" x="777.3" y="1085.7">R8 &amp; R7</text>
</g>

<g id="consolidated-data">
<rect class="box" x="939.3" y="944.3" width="349.7" height="146"/>
<path class="l" d="M939.3,957.3H1289M939.3,971H1289M939.3,984.3H1289M939.3,997.7H1289M939.3,1011H1289M939.3,1024.3H1289M939.3,1037.7H1289M939.3,1051H1289M939.3,1064.3H1289M939.3,1077.7H1289M971,971V1090.3M1045,984.3V1090.3M1067.3,984.3V1090.3M1076.7,957.3V1090.3M1078.7,957.3V1090.3M1119.3,984.3V1090.3M1206.7,984.3V1090.3M1238.3,984.3V1090.3"/>
<text class="s85 b u m" x="1114" y="955">Consolidated Data</text><text class="b m" x="1008" y="967.7" style="font-size:8.6px">Direct</text><text class="b m" x="1184" y="967.7" style="font-size:8.6px">Indirect</text>
<text class="s7 b" x="941" y="981">Value</text><text class="s7 m" x="1023" y="981">R8-Recycle</text>
<text class="s7 b" x="941" y="994.6">Loop</text><text class="s7" x="973" y="994.6">Same</text><text class="s7 e" x="1065.5" y="994.6">97.4</text><text class="s7 m" x="1072" y="994.6">%</text><text class="s7 b" x="1082" y="994.6">Env.</text><text class="s7" x="1121" y="994.6">CO-equivalent (total)</text><text class="s7 e" x="1237" y="994.6">16.9</text><text class="s7 m" x="1263.5" y="994.6">kgCO2-eq/fu</text>
<text class="s7" x="973" y="1008">Other</text><text class="s7 e" x="1065.5" y="1008">2.5</text><text class="s7 m" x="1072" y="1008">%</text><text class="s7" x="1121" y="1008">Energy-consumption</text><text class="s7 e" x="1237" y="1008">47.50</text><text class="s7 m" x="1263.5" y="1008">kWh/fu</text>
<text class="s7" x="973" y="1021.3">Waste</text><text class="s7 e" x="1065.5" y="1021.3">0.1</text><text class="s7 m" x="1072" y="1021.3">%</text><text class="s7" x="1121" y="1021.3">CO2-equivalent (Tr)</text><text class="s7 e" x="1237" y="1021.3">6.64</text><text class="s7 m" x="1263.5" y="1021.3">kgCO2-eq/fu</text>
<text class="s7 b" x="941" y="1034.6">Weight</text><text class="s7" x="973" y="1034.6">Product</text><text class="s7 e" x="1065.5" y="1034.6">92</text><text class="s7 m" x="1072" y="1034.6">%</text><text class="s7" x="1121" y="1034.6">Water-consumption</text><text class="s7 e" x="1237" y="1034.6">2000</text><text class="s7 m" x="1263.5" y="1034.6">l/fu</text>
<text class="s7" x="973" y="1048">Direct Packaging</text><text class="s7 e" x="1065.5" y="1048">4.5</text><text class="s7 m" x="1072" y="1048">%</text><text class="s7 b" x="1082" y="1048">Eco.</text><text class="s7" x="1121" y="1048">Lead-Time</text><text class="s7 e" x="1237" y="1048">3431</text><text class="s7 m" x="1263.5" y="1048">s</text>
<text class="s7" x="973" y="1061.3">Indirect Packaging</text><text class="s7 e" x="1065.5" y="1061.3">3.5</text><text class="s7 m" x="1072" y="1061.3">%</text><text class="s7" x="1121" y="1061.3">Costs</text><text class="s7 e" x="1237" y="1061.3">?</text><text class="s7 m" x="1263.5" y="1061.3">€/fu</text>
<text class="s7" x="973" y="1074.6">Auxiliary Material</text><text class="s7 e" x="1065.5" y="1074.6">0</text><text class="s7 m" x="1072" y="1074.6">%</text><text class="s7 b" x="1082" y="1074.6">Soc.</text><text class="s7" x="1121" y="1074.6">Workers</text><text class="s7 e" x="1237" y="1074.6">8</text><text class="s7 m" x="1263.5" y="1074.6">#</text>
<text class="s7 b" x="941" y="1088">Usage</text><text class="s7" x="973" y="1088">Usage-Frequency</text><text class="s7 e" x="1065.5" y="1088">1</text><text class="s7 m" x="1072" y="1088">#</text><text class="s7" x="1121" y="1088">Average noise</text><text class="s7 e" x="1237" y="1088">54.4</text><text class="s7 m" x="1263.5" y="1088">dB</text>
</g>

<g id="callout-b-left"><ellipse class="ring" cx="50" cy="95.7" rx="41.7" ry="46.3"/><text class="big" x="53" y="108">B</text></g>
<g id="callout-b-right"><ellipse class="ring" cx="1299" cy="221.7" rx="41.7" ry="46.3"/><text class="big" x="1301" y="235">B</text></g>
<g id="callout-c"><ellipse class="ring" cx="821" cy="264" rx="41.5" ry="46.5"/><text class="big" x="822" y="277">C</text></g>
<g id="callout-a"><ellipse class="ring" cx="706" cy="798" rx="41.7" ry="46.3"/><text class="big" x="707" y="811">A</text></g>
</svg>
